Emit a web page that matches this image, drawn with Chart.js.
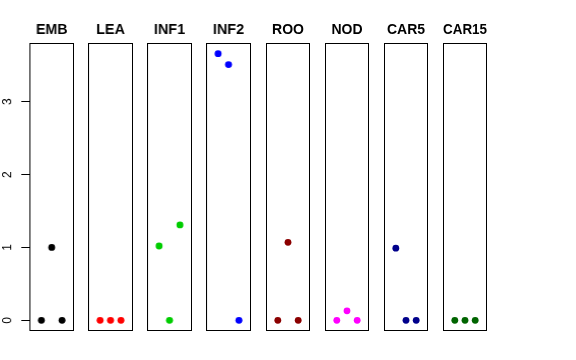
<!DOCTYPE html>
<html>
<head>
<meta charset="utf-8">
<script src="https://cdn.jsdelivr.net/npm/chart.js@4"></script>
<style>
  body { margin: 0; background: #fff; }
  #wrap { position: relative; width: 576px; height: 360px; }
  #wrap canvas { position: absolute; top: 0; }
</style>
</head>
<body>
<div id="wrap"></div>
<script>
  // donnees
  const tissus = ["EMB", "LEA", "INF1", "INF2", "ROO", "NOD", "CAR5", "CAR15"];
  const repliques = [1, 2, 3];
  const valEMB = [0, 1.0, 0];
  const valLEA = [0, 0, 0];
  const valINF1 = [1.02, 0, 1.31];
  const valINF2 = [3.66, 3.51, 0];
  const valROO = [0, 1.07, 0];
  const valNOD = [0, 0.13, 0];
  const valCAR5 = [0.99, 0, 0];
  const valCAR15 = [0, 0, 0];
  const yTicks = [0, 1, 2, 3];

  const valeurs = [valEMB, valLEA, valINF1, valINF2, valROO, valNOD, valCAR5, valCAR15];
  const couleurs = ["#000000", "#ff0000", "#00cd00", "#0000ff", "#8b0000", "#ff00ff", "#00008b", "#006400"];

  const yMin = -0.1464, yMax = 3.8064;
  const axeG = 29, pas = 59.14, largeur = 44.5;

  // cadre autour de chaque panneau
  const cadre = {
    id: "cadre",
    afterDraw(chart) {
      const a = chart.chartArea, ctx = chart.ctx;
      ctx.save();
      ctx.strokeStyle = "#000";
      ctx.lineWidth = 1;
      ctx.strokeRect(Math.round(a.left) + 0.5, Math.round(a.top) + 0.5,
        Math.round(a.right - a.left) - 1, Math.round(a.bottom - a.top) - 1);
      ctx.restore();
    }
  };

  // etiquettes de l'axe y tournees comme dans R
  const etiquettesY = {
    id: "etiquettesY",
    afterDraw(chart) {
      const sc = chart.scales.y, ctx = chart.ctx;
      if (!sc.options.display) return;
      ctx.save();
      ctx.fillStyle = "#000";
      ctx.font = "12px 'Liberation Sans', Arial, sans-serif";
      ctx.textAlign = "center";
      ctx.textBaseline = "middle";
      yTicks.forEach(v => {
        ctx.save();
        ctx.translate(8, sc.getPixelForValue(v));
        ctx.rotate(-Math.PI / 2);
        ctx.fillText(String(v), 0, 0);
        ctx.restore();
      });
      ctx.restore();
    }
  };

  const wrap = document.getElementById("wrap");

  tissus.forEach((nom, i) => {
    const premier = i === 0;
    const left = premier ? 0 : axeG + pas * i;
    const w = premier ? axeG + largeur : largeur;
    const canvas = document.createElement("canvas");
    canvas.style.left = left + "px";
    canvas.style.width = w + "px";
    canvas.style.height = "360px";
    canvas.width = w;
    canvas.height = 360;
    wrap.appendChild(canvas);

    new Chart(canvas.getContext("2d"), {
      type: "scatter",
      data: {
        datasets: [{
          data: repliques.map((x, k) => ({ x, y: valeurs[i][k] })),
          backgroundColor: couleurs[i],
          borderWidth: 0,
          pointRadius: 3.4,
          pointHoverRadius: 3.4
        }]
      },
      options: {
        responsive: false,
        animation: false,
        events: [],
        layout: { autoPadding: false, padding: { left: 0, right: 0, top: 0, bottom: 29 } },
        plugins: {
          legend: { display: false },
          tooltip: { enabled: false },
          title: {
            display: true,
            fullSize: false,
            text: nom,
            color: "#000",
            font: { size: 14, weight: "bold", family: "'Liberation Sans', Arial, sans-serif", lineHeight: 1.2 },
            padding: { top: 22, bottom: 4.2 }
          }
        },
        scales: {
          x: { type: "linear", min: -0.16, max: 4.16, display: false },
          y: {
            type: "linear",
            min: yMin,
            max: yMax,
            display: premier,
            afterBuildTicks: s => { s.ticks = yTicks.map(v => ({ value: v })); },
            afterFit: s => { if (premier) s.width = axeG; },
            ticks: { display: false },
            border: { display: false },
            grid: { drawOnChartArea: false, drawTicks: true, tickLength: 8, color: "#000", lineWidth: 1 }
          }
        }
      },
      plugins: [cadre, etiquettesY]
    });
  });
</script>
</body>
</html>
